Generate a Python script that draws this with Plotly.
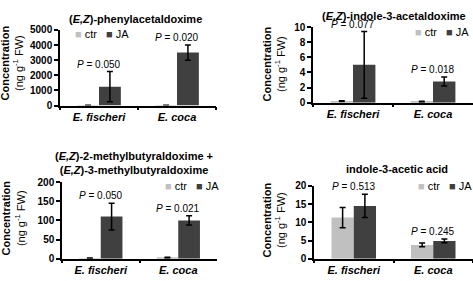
import plotly.graph_objects as go

W, H = 473, 281

categories = ["E. fischeri", "E. coca"]
series_names = ["ctr", "JA"]

# Panel 1: (E,Z)-phenylacetaldoxime
p1_ctr = [15, 20]
p1_ctr_err = [5, 5]
p1_ja = [1250, 3500]
p1_ja_err = [1000, 500]
p1_p = ["0.050", "0.020"]

# Panel 2: (E,Z)-indole-3-acetaldoxime
p2_ctr = [0.2, 0.15]
p2_ctr_err = [0.05, 0.05]
p2_ja = [5.0, 2.8]
p2_ja_err = [4.4, 0.6]
p2_p = ["0.077", "0.018"]

# Panel 3: methylbutyraldoximes
p3_ctr = [1.5, 3.0]
p3_ctr_err = [0.5, 0.8]
p3_ja = [110, 100]
p3_ja_err = [35, 12]
p3_p = ["0.050", "0.021"]

# Panel 4: indole-3-acetic acid
p4_ctr = [11.3, 3.8]
p4_ctr_err = [2.8, 0.5]
p4_ja = [14.5, 4.9]
p4_ja_err = [3.2, 0.5]
p4_p = ["0.513", "0.245"]

y_ranges = [[0, 5000], [0, 10], [0, 200], [0, 20]]
y_dticks = [1000, 2, 50, 5]

titles = [
    "<b>(<i>E,Z</i>)-phenylacetaldoxime</b>",
    "<b>(<i>E,Z</i>)-indole-3-acetaldoxime</b>",
    "<b>(<i>E,Z</i>)-2-methylbutyraldoxime +<br>(<i>E,Z</i>)-3-methylbutyraldoxime</b>",
    "<b>indole-3-acetic acid</b>",
]

CTR_COLOR = "#c0c0c0"
JA_COLOR = "#404040"
FONT = "Liberation Sans, Arial, sans-serif"


def px(x):
    return x / W


def py(y):
    return 1 - y / H


# layout geometry (pixels): x0, x1, y_bottom, y_top
geom = [
    (60, 216, 104, 25),
    (313, 473, 101, 22),
    (62, 217, 264, 184),
    (314, 473, 264, 188),
]
title_pos = [(135, 14), (394, 10), (134, 164), (397, 170)]
legend_pos = [(73, 29), (413, 27), (163, 188), (416, 188)]
ytitle_pos = [(12, 60), (274, 61), (13, 222), (274, 224)]

panels = [
    (p1_ctr, p1_ctr_err, p1_ja, p1_ja_err, p1_p),
    (p2_ctr, p2_ctr_err, p2_ja, p2_ja_err, p2_p),
    (p3_ctr, p3_ctr_err, p3_ja, p3_ja_err, p3_p),
    (p4_ctr, p4_ctr_err, p4_ja, p4_ja_err, p4_p),
]

fig = go.Figure()
annotations = []
layout_axes = {}

for i, (ctr, ctr_err, ja, ja_err, pvals) in enumerate(panels):
    n = i + 1
    xa = "x" if n == 1 else f"x{n}"
    ya = "y" if n == 1 else f"y{n}"
    for name, vals, errs, col in [
        (series_names[0], ctr, ctr_err, CTR_COLOR),
        (series_names[1], ja, ja_err, JA_COLOR),
    ]:
        fig.add_trace(go.Bar(
            x=categories, y=vals, name=name, xaxis=xa, yaxis=ya,
            marker=dict(color=col, line=dict(width=0)),
            error_y=dict(type="data", array=errs, color="black",
                         thickness=1.5, width=3),
            showlegend=False,
        ))
    x0, x1, yb, yt = geom[i]
    xkey = "xaxis" if n == 1 else f"xaxis{n}"
    ykey = "yaxis" if n == 1 else f"yaxis{n}"
    layout_axes[xkey] = dict(
        domain=[px(x0), px(x1)], anchor=ya,
        type="category", categoryorder="array", categoryarray=categories,
        tickvals=categories,
        ticktext=[f"<i>{c}</i>" for c in categories],
        showline=True, linecolor="black", linewidth=1.5,
        ticks="outside", tickson="boundaries", ticklen=3, tickwidth=1.5,
        tickcolor="black", showgrid=False, zeroline=False,
        tickfont=dict(family=FONT, size=11, color="black", weight="bold"),
        fixedrange=True,
    )
    layout_axes[ykey] = dict(
        domain=[py(yb), py(yt)], anchor=xa,
        range=y_ranges[i], dtick=y_dticks[i],
        showline=True, linecolor="black", linewidth=1.5,
        ticks="outside", ticklen=4, tickwidth=1.5, tickcolor="black",
        showgrid=False, zeroline=False,
        tickfont=dict(family=FONT, size=10, color="black", weight="bold"),
        fixedrange=True,
    )
    # P-value labels above the highest error bar
    for j, c in enumerate(categories):
        top = max(ctr[j] + ctr_err[j], ja[j] + ja_err[j])
        annotations.append(dict(
            x=c, y=top, xref=xa, yref=ya, yanchor="bottom", yshift=0,
            text=f"<i>P</i> = {pvals[j]}", showarrow=False,
            font=dict(family=FONT, size=10, color="black"),
        ))
    # title
    tx, ty = title_pos[i]
    annotations.append(dict(
        x=px(tx), y=py(ty), xref="paper", yref="paper",
        xanchor="center", yanchor="middle", text=titles[i], showarrow=False,
        font=dict(family=FONT, size=11, color="black"),
    ))
    # legend
    lx, ly = legend_pos[i]
    annotations.append(dict(
        x=px(lx), y=py(ly), xref="paper", yref="paper",
        xanchor="left", yanchor="middle", showarrow=False,
        text=(f"<span style='color:{CTR_COLOR}'>■</span> {series_names[0]}   "
              f"<span style='color:{JA_COLOR}'>■</span> {series_names[1]}"),
        font=dict(family=FONT, size=11, color="black"),
    ))
    # y-axis title
    ax_, ay_ = ytitle_pos[i]
    annotations.append(dict(
        x=px(ax_), y=py(ay_), xref="paper", yref="paper",
        xanchor="center", yanchor="middle", showarrow=False, textangle=-90,
        text="<b>Concentration</b><br>(ng g<sup>-1</sup> FW)",
        font=dict(family=FONT, size=11, color="black"),
    ))

fig.update_layout(
    width=W, height=H,
    margin=dict(l=0, r=0, t=0, b=0),
    paper_bgcolor="white", plot_bgcolor="white",
    barmode="group", bargap=0.44, bargroupgap=0,
    showlegend=False,
    annotations=annotations,
    font=dict(family=FONT, color="black"),
    **layout_axes,
)

fig.write_html(
    "out.html",
    config={"displayModeBar": False},
    post_script="document.body.style.margin='0';document.body.style.overflow='hidden';",
)
